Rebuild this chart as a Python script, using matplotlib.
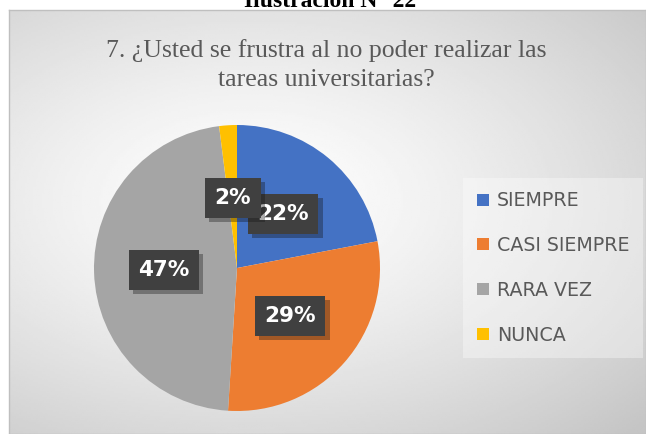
import numpy as np
import matplotlib.pyplot as plt
import matplotlib.patheffects as pe

categories = ["SIEMPRE", "CASI SIEMPRE", "RARA VEZ", "NUNCA"]
values = [22, 29, 47, 2]
colors = ["#4472C4", "#ED7D31", "#A5A5A5", "#FFC000"]
label_pos = [(283, 214), (290, 316), (164, 270), (233, 198)]  # pixel centres of data labels

W, H = 646, 434
fig = plt.figure(figsize=(W / 100, H / 100), dpi=100)

# caption cut off at the top
fig.text(330 / W, 1 - 7 / H, "Ilustración N° 22", ha="center", va="baseline",
         family="Liberation Serif", weight="bold", fontsize=17, color="black")

# chart frame with radial gradient background
bg = fig.add_axes([9 / W, 0, 1 - 9 / W, 1 - 10 / H])
yy, xx = np.mgrid[0:1:200j, 0:1:300j]
r = np.sqrt(((xx - 0.38) / 1.0) ** 2 + ((yy - 0.45) / 0.9) ** 2)
g = np.clip(1.0 - 0.28 * r ** 1.3, 0.77, 1.0)
bg.imshow(g, cmap="gray", vmin=0, vmax=1, extent=[0, 1, 0, 1], aspect="auto", origin="upper")
bg.set_xlim(0, 1)
bg.set_ylim(0, 1)
bg.set_xticks([])
bg.set_yticks([])
for s in bg.spines.values():
    s.set_color("#BFBFBF")
    s.set_linewidth(1.0)

fig.text(326 / W, 1 - 65 / H, "7. ¿Usted se frustra al no poder realizar las\ntareas universitarias?",
         ha="center", va="center", family="Liberation Serif", fontsize=18.5,
         color="#595959", linespacing=1.4)

# pie
cx, cy, rad = 237, 268, 143
ax = fig.add_axes([(cx - rad) / W, 1 - (cy + rad) / H, 2 * rad / W, 2 * rad / H])
wedges, _ = ax.pie(values, colors=colors, startangle=90, counterclock=False,
                   wedgeprops=dict(edgecolor="none"))
ax.set_xlim(-1, 1)
ax.set_ylim(-1, 1)
ax.set_aspect("auto")
ax.axis("off")

for v, (px, py) in zip(values, label_pos):
    fig.text(px / W, 1 - py / H, f"{v}%", ha="center", va="center", fontsize=15.5,
             weight="bold", color="white", family="DejaVu Sans",
             bbox=dict(boxstyle="square,pad=0.45", fc="#404040", ec="none",
                       path_effects=[pe.SimplePatchShadow(offset=(3, -3), alpha=0.35),
                                     pe.Normal()]))

# legend
leg_ax = fig.add_axes([463 / W, 1 - 358 / H, 180 / W, 180 / H])
leg_ax.set_facecolor((1, 1, 1, 0.35))
leg_ax.set_xticks([])
leg_ax.set_yticks([])
for s in leg_ax.spines.values():
    s.set_visible(False)
handles = [plt.Rectangle((0, 0), 1, 1, fc=c, ec="none") for c in colors]
leg = leg_ax.legend(handles, categories, loc="center left", frameon=False,
                    fontsize=13.7, labelcolor="#595959", handlelength=0.6,
                    handleheight=0.6, handletextpad=0.45, labelspacing=1.35,
                    borderaxespad=0.35)

fig.savefig("out.png", dpi=100)
